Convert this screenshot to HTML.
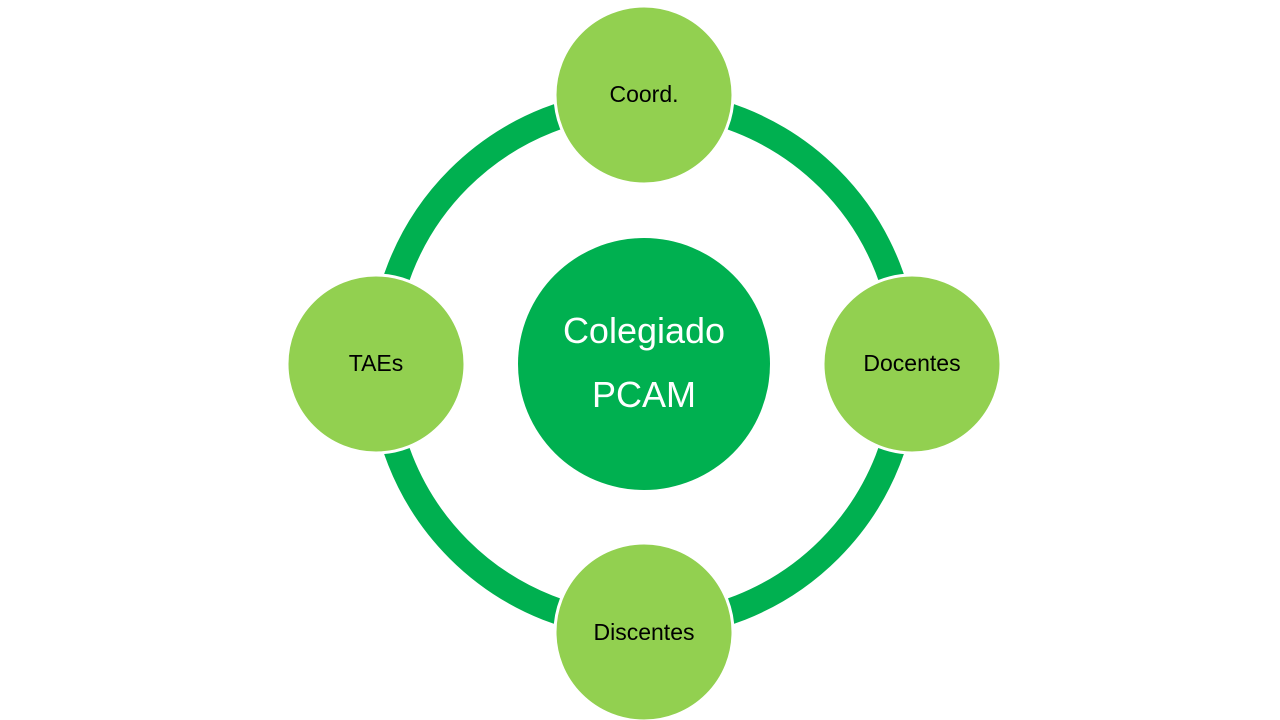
<!DOCTYPE html>
<html><head><meta charset="utf-8"><style>html,body{margin:0;padding:0;background:#fff;}</style></head>
<body>
<svg width="1280" height="720" viewBox="0 0 1280 720" xmlns="http://www.w3.org/2000/svg" style="display:block">
<circle cx="644" cy="364" r="262" fill="none" stroke="#00b050" stroke-width="26"/>
<circle cx="644" cy="364" r="126" fill="#00b050"/>
<g fill="#92d050" stroke="#fff" stroke-width="3">
<circle cx="644" cy="95" r="89"/>
<circle cx="912" cy="364" r="89"/>
<circle cx="644" cy="632" r="89"/>
<circle cx="376" cy="364" r="89"/>
</g>
<g font-family="Liberation Sans, sans-serif" text-anchor="middle">
<text x="644" y="343" font-size="36" fill="#fff">Colegiado</text>
<text x="644" y="407" font-size="36" fill="#fff">PCAM</text>
<g font-size="23" fill="#000">
<text x="644" y="102">Coord.</text>
<text x="912" y="371">Docentes</text>
<text x="644" y="640">Discentes</text>
<text x="376" y="371">TAEs</text>
</g>
</g>
</svg>
</body></html>
